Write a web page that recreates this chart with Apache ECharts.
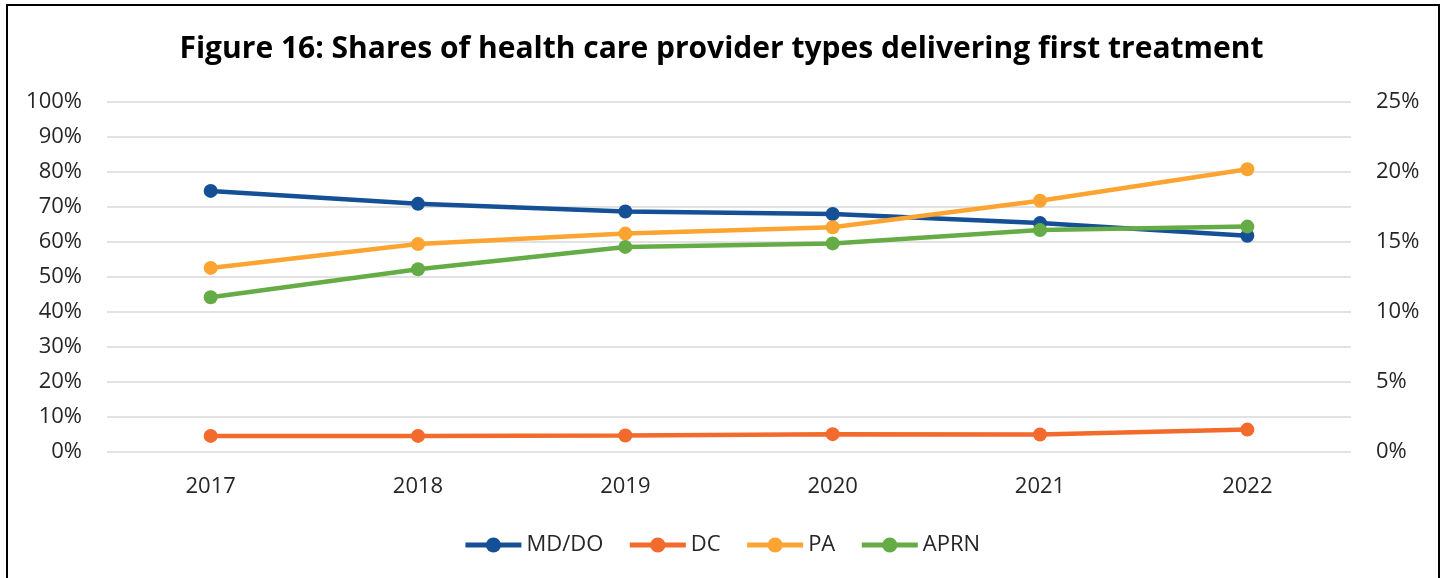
<!DOCTYPE html>
<html>
<head>
<meta charset="utf-8">
<script src="https://cdn.jsdelivr.net/npm/echarts@6/dist/echarts.min.js"></script>
<style>
    html, body { margin: 0; padding: 0; background: #fff; overflow: hidden; }
    #frame {
        position: absolute; left: 6px; top: 4px; width: 1430px; height: 600px;
        border: 2px solid #000;
    }
    #chart { position: absolute; left: 0; top: 0; width: 1443px; height: 578px; }
</style>
</head>
<body>
<div id="frame"></div>
<div id="chart"></div>
<script>
// years on the category axis
const years = ['2017', '2018', '2019', '2020', '2021', '2022'];
// left axis (percent)
const mdDo = [74.6, 70.9, 68.7, 68.0, 65.4, 61.8];
const dc = [4.6, 4.6, 4.7, 5.1, 5.0, 6.4];
// right axis (percent)
const pa = [13.15, 14.85, 15.6, 16.05, 17.95, 20.2];
const aprn = [11.05, 13.05, 14.65, 14.9, 15.85, 16.1];

const labelFont = { fontFamily: 'Open Sans', fontSize: 22, color: '#262626' };

let myChart = echarts.init(document.getElementById('chart'));

function lineSeries(name, data, color, axis) {
    return {
        name: name,
        type: 'line',
        yAxisIndex: axis,
        data: data,
        symbol: 'circle',
        symbolSize: 14,
        lineStyle: { width: 4.5, color: color },
        itemStyle: { color: color },
        z: 3
    };
}

let option = {
    animation: false,
    title: {
        text: 'Figure 16: Shares of health care provider types delivering first treatment',
        left: 'center',
        top: 29,
        textStyle: { fontFamily: 'Open Sans', fontWeight: 'bold', fontSize: 30, color: '#000' }
    },
    legend: {
        bottom: 17,
        left: 'center',
        itemWidth: 56,
        itemHeight: 19,
        itemGap: 24,
        lineStyle: { width: 5 },
        textStyle: labelFont,
        data: ['MD/DO', 'DC', 'PA', 'APRN']
    },
    grid: { left: 107, right: 92, top: 102, bottom: 126 },
    xAxis: {
        type: 'category',
        data: years,
        boundaryGap: true,
        axisLine: { show: false },
        axisTick: { show: false },
        axisLabel: Object.assign({ margin: 24 }, labelFont)
    },
    yAxis: [
        {
            type: 'value',
            min: 0, max: 100, interval: 10,
            axisLine: { show: false },
            axisTick: { show: false },
            axisLabel: Object.assign({ margin: 25, formatter: '{value}%' }, labelFont),
            splitLine: { lineStyle: { color: '#d9d9d9', width: 1.5 } }
        },
        {
            type: 'value',
            min: 0, max: 25, interval: 5,
            axisLine: { show: false },
            axisTick: { show: false },
            axisLabel: Object.assign({ margin: 25, formatter: '{value}%' }, labelFont),
            splitLine: { show: false }
        }
    ],
    series: [
        lineSeries('MD/DO', mdDo, '#154F96', 0),
        lineSeries('DC', dc, '#F26A2C', 0),
        lineSeries('PA', pa, '#FCA431', 1),
        lineSeries('APRN', aprn, '#66AC46', 1)
    ]
};
option && myChart.setOption(option);
</script>
</body>
</html>
